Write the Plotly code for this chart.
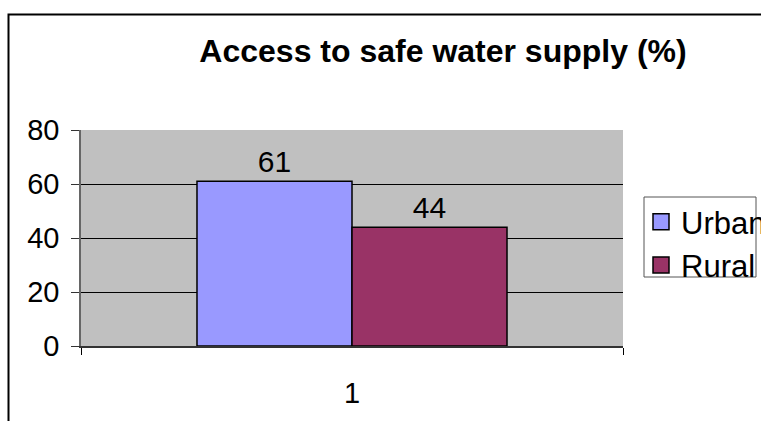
import plotly.graph_objects as go

categories = ["1"]
series_names = ["Urban", "Rural"]
urban_values = [61]
rural_values = [44]
series_colors = ["#9999FF", "#993366"]
y_ticks = [0, 20, 40, 60, 80]
title_text = "Access to safe water supply (%)"

W, H = 800, 421
L, T = 81, 130
pw, ph = 542, 216
R = W - L - pw
B = H - T - ph

def px_x(x):
    return (x - L) / pw

def px_y(y):
    return (T + ph - y) / ph

FONT = "Liberation Sans, Arial"
fig = go.Figure()
for name, vals, col in zip(series_names, [urban_values, rural_values], series_colors):
    fig.add_trace(go.Bar(
        x=categories, y=vals, name=name,
        marker=dict(color=col, line=dict(color="black", width=1.5)),
        text=[str(v) for v in vals], textposition="outside",
        textfont=dict(size=30, color="black", family=FONT),
        cliponaxis=False, showlegend=False,
    ))
for name, col in zip(series_names, series_colors):
    fig.add_trace(go.Scatter(
        x=[None], y=[None], mode="markers", name=name,
        marker=dict(symbol="square", size=16, color=col, line=dict(color="black", width=1.5)),
    ))

fig.update_layout(
    width=W, height=H,
    margin=dict(l=L, r=R, t=T, b=B, pad=0),
    paper_bgcolor="white", plot_bgcolor="#C0C0C0",
    barmode="group", bargap=0.428, bargroupgap=0,
    font=dict(family=FONT, color="black", size=29),
    title=dict(text="<b>" + title_text + "</b>", x=443 / W, xanchor="center",
               y=1 - 51 / H, yanchor="middle",
               font=dict(size=32, family=FONT, color="black")),
    showlegend=True,
    legend=dict(x=px_x(641), xanchor="left", y=px_y(195), yanchor="top",
                bgcolor="rgba(0,0,0,0)", borderwidth=0,
                font=dict(size=31, family=FONT, color="black"),
                tracegroupgap=0, itemclick=False),
    xaxis=dict(type="category", tickson="boundaries", ticks="outside", ticklen=7,
               tickcolor="black", tickwidth=1, showgrid=False, showline=True,
               linecolor="#333333", linewidth=1.5, ticklabelstandoff=20,
               tickfont=dict(size=29), fixedrange=True),
    yaxis=dict(range=[0, 80], tickvals=y_ticks, ticks="outside", ticklen=8,
               tickcolor="#333333", showgrid=True, gridcolor="black", gridwidth=1,
               showline=True, linecolor="#666666", linewidth=1.5, zeroline=False,
               ticklabelstandoff=6, tickfont=dict(size=29), fixedrange=True),
    shapes=[
        dict(type="rect", xref="paper", yref="paper",
             x0=px_x(8.5), x1=2.0, y0=-1.0, y1=px_y(14.5),
             line=dict(color="black", width=2), fillcolor="rgba(0,0,0,0)", layer="above"),
        dict(type="rect", xref="paper", yref="paper",
             x0=px_x(644), x1=px_x(756), y0=px_y(277), y1=px_y(197),
             line=dict(color="#555555", width=1), fillcolor="rgba(0,0,0,0)"),
    ],
)
fig.write_html(
    "out.html",
    config={"displayModeBar": False},
    post_script=(
        "document.body.style.margin='0';"
        "document.body.style.overflow='hidden';"
        "document.documentElement.style.overflow='hidden';"
    ),
)
